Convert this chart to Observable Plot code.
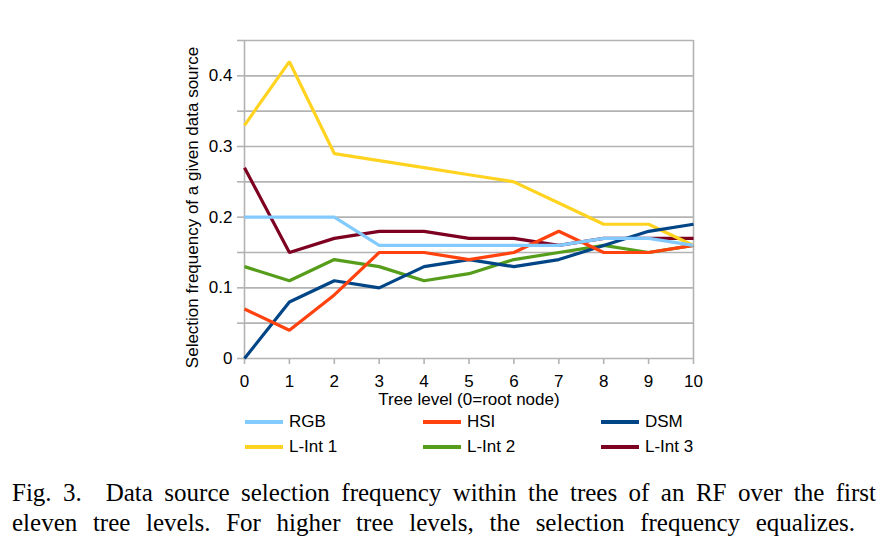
<!DOCTYPE html>
<html>
<head>
<meta charset="utf-8">
<script src="https://cdn.jsdelivr.net/npm/d3@7"></script>
<script src="https://cdn.jsdelivr.net/npm/@observablehq/plot@0.6"></script>
<style>
  body { margin: 0; background: #fff; }
  #wrap { position: relative; width: 889px; height: 559px; overflow: hidden; }
  #chart { position: absolute; left: 0; top: 0; }
  .leg { position: absolute; font-family: "Liberation Sans", Arial, sans-serif; font-size: 17px; line-height: 20px; color: #000; white-space: nowrap; }
  .sw { position: absolute; height: 4px; width: 38px; }
  .cap { position: absolute; left: 12px; font-family: "Liberation Serif", "Times New Roman", serif; font-size: 25px; line-height: 30px; color: #000; text-align: justify; text-align-last: justify; white-space: normal; }
</style>
</head>
<body>
<div id="wrap">
  <div id="chart"></div>
  <div id="legend"></div>
  <div class="cap" id="cap1" style="top:478px; width:864px;"></div>
  <div class="cap" id="cap2" style="top:508px; width:843px;"></div>
</div>
<script>
// ---- data ----
const levels = [0, 1, 2, 3, 4, 5, 6, 7, 8, 9, 10];
const seriesNames = ["RGB", "HSI", "DSM", "L-Int 1", "L-Int 2", "L-Int 3"];
const seriesColors = ["#83caff", "#ff420e", "#004586", "#ffd320", "#579d1c", "#7e0021"];
const rgb   = [0.20, 0.20, 0.20, 0.16, 0.16, 0.16, 0.16, 0.16, 0.17, 0.17, 0.16];
const hsi   = [0.07, 0.04, 0.09, 0.15, 0.15, 0.14, 0.15, 0.18, 0.15, 0.15, 0.16];
const dsm   = [0.00, 0.08, 0.11, 0.10, 0.13, 0.14, 0.13, 0.14, 0.16, 0.18, 0.19];
const lint1 = [0.33, 0.42, 0.29, 0.28, 0.27, 0.26, 0.25, 0.22, 0.19, 0.19, 0.16];
const lint2 = [0.13, 0.11, 0.14, 0.13, 0.11, 0.12, 0.14, 0.15, 0.16, 0.15, 0.16];
const lint3 = [0.27, 0.15, 0.17, 0.18, 0.18, 0.17, 0.17, 0.16, 0.17, 0.17, 0.17];
const yTicks = [0, 0.05, 0.1, 0.15, 0.2, 0.25, 0.3, 0.35, 0.4, 0.45];
const yLabelTicks = [0, 0.1, 0.2, 0.3, 0.4];
const xLabel = "Tree level (0=root node)";
const yLabel = "Selection frequency of a given data source";
const captionLine1 = "Fig. 3.\u2002 Data source selection frequency within the trees of an RF over the first";
const captionLine2 = "eleven tree levels. For higher tree levels, the selection frequency equalizes.";

const allSeries = [rgb, hsi, dsm, lint1, lint2, lint3];
const rows = [];
// draw in reverse order so the first series is on top
for (let s = allSeries.length - 1; s >= 0; s--) {
  levels.forEach((lv, i) => rows.push({ level: lv, value: allSeries[s][i], series: seriesNames[s] }));
}

const grey = "#b3b3b3";
const plot = Plot.plot({
  width: 889,
  height: 410,
  marginLeft: 244,
  marginRight: 196,
  marginTop: 40,
  marginBottom: 52,
  style: { fontFamily: "Liberation Sans, Arial, sans-serif", fontSize: "17px", color: "#000", background: "#fff" },
  x: { domain: [0, 10], label: null },
  y: { domain: [0, 0.45], label: null },
  color: { domain: seriesNames, range: seriesColors },
  marks: [
    Plot.ruleY(yTicks, { stroke: grey, strokeWidth: 1.6 }),
    Plot.ruleX([0, 10], { stroke: grey, strokeWidth: 1.6 }),
    Plot.axisY(yTicks, { tickSize: 7, stroke: grey, strokeWidth: 1.6, tickFormat: () => "", label: null }),
    Plot.axisY(yLabelTicks, { tickSize: 7, tickPadding: 5, stroke: "none", fill: "#000", fontSize: 17, tickFormat: d => d === 0 ? "0" : d.toFixed(1), label: null }),
    Plot.axisX(levels, { tickSize: 6, tickPadding: 10, stroke: grey, strokeWidth: 1.6, fill: "#000", fontSize: 17, tickFormat: d => String(d), label: null }),
    Plot.line(rows, { x: "level", y: "value", z: "series", stroke: "series", strokeWidth: 3.2, strokeLinejoin: "miter", strokeLinecap: "butt" }),
    Plot.text([xLabel], { frameAnchor: "bottom", dy: 46, fontSize: 17, fill: "#000" }),
    Plot.text([yLabel], { frameAnchor: "left", textAnchor: "middle", dx: -52, dy: 8, rotate: -90, fontSize: 17, fill: "#000" })
  ]
});
document.getElementById("chart").appendChild(plot);

// legend
const legend = document.getElementById("legend");
const colX = [245, 423, 601];
const rowY = [412, 437];
seriesNames.forEach((name, i) => {
  const c = i % 3, r = Math.floor(i / 3);
  const sw = document.createElement("div");
  sw.className = "sw";
  sw.style.left = colX[c] + "px";
  sw.style.top = (rowY[r] + 8) + "px";
  sw.style.background = seriesColors[i];
  legend.appendChild(sw);
  const t = document.createElement("div");
  t.className = "leg";
  t.style.left = (colX[c] + 44) + "px";
  t.style.top = rowY[r] + "px";
  t.textContent = name;
  legend.appendChild(t);
});
document.getElementById("cap1").textContent = captionLine1;
document.getElementById("cap2").textContent = captionLine2;
</script>
</body>
</html>
